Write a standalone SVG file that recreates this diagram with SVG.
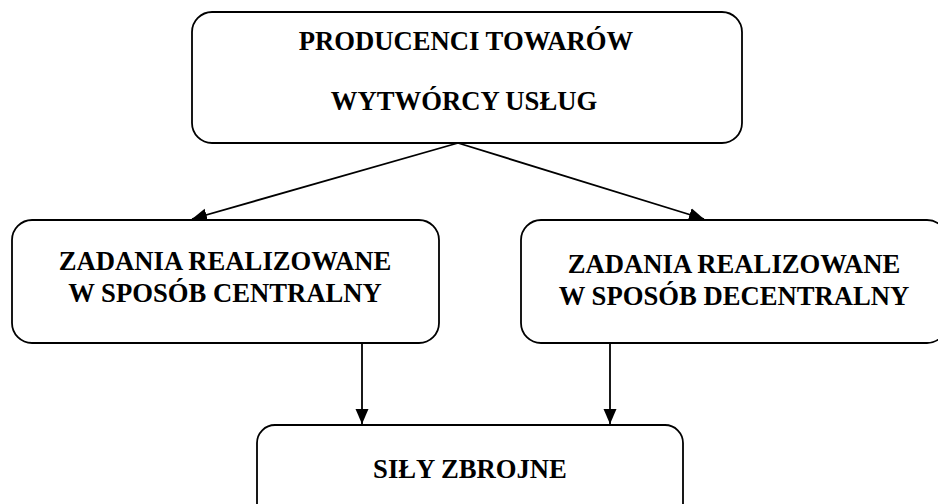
<svg xmlns="http://www.w3.org/2000/svg" width="938" height="504" viewBox="0 0 938 504">
<style>
.box{fill:#fff;stroke:#000;stroke-width:1.8}
.t{font-family:"Liberation Serif","Times New Roman",serif;font-weight:700;font-size:26.67px;fill:#000;text-anchor:middle}
.c{stroke:#000;stroke-width:1.8;fill:none;marker-end:url(#ah)}
</style>
<defs>
<marker id="ah" markerUnits="userSpaceOnUse" markerWidth="16" markerHeight="14" refX="15" refY="7" orient="auto">
<path d="M0,0.5 L15,7 L0,13.5 Z" fill="#000"/>
</marker>
</defs>
<rect width="938" height="504" fill="#fff"/>
<g id="connectors">
<line class="c" x1="458" y1="143" x2="192" y2="219"/>
<line class="c" x1="458" y1="143" x2="704" y2="219"/>
<line class="c" x1="362" y1="343" x2="362" y2="424"/>
<line class="c" x1="610" y1="343" x2="610" y2="424"/>
</g>
<g id="producenci">
<rect class="box" x="192" y="12" width="550" height="131" rx="20"/>
<text class="t" x="466" y="50">PRODUCENCI TOWARÓW</text>
<text class="t" x="464" y="110">WYTWÓRCY USŁUG</text>
</g>
<g id="centralny">
<rect class="box" x="12" y="220" width="427" height="123" rx="20"/>
<text class="t" x="225" y="270">ZADANIA REALIZOWANE</text>
<text class="t" x="225" y="302">W SPOSÓB CENTRALNY</text>
</g>
<g id="decentralny">
<rect class="box" x="521" y="220" width="426" height="123" rx="20"/>
<text class="t" x="734" y="273">ZADANIA REALIZOWANE</text>
<text class="t" x="734" y="305">W SPOSÓB DECENTRALNY</text>
</g>
<g id="sily">
<rect class="box" x="257" y="425" width="426" height="100" rx="18"/>
<text class="t" x="470" y="478">SIŁY ZBROJNE</text>
</g>
</svg>
